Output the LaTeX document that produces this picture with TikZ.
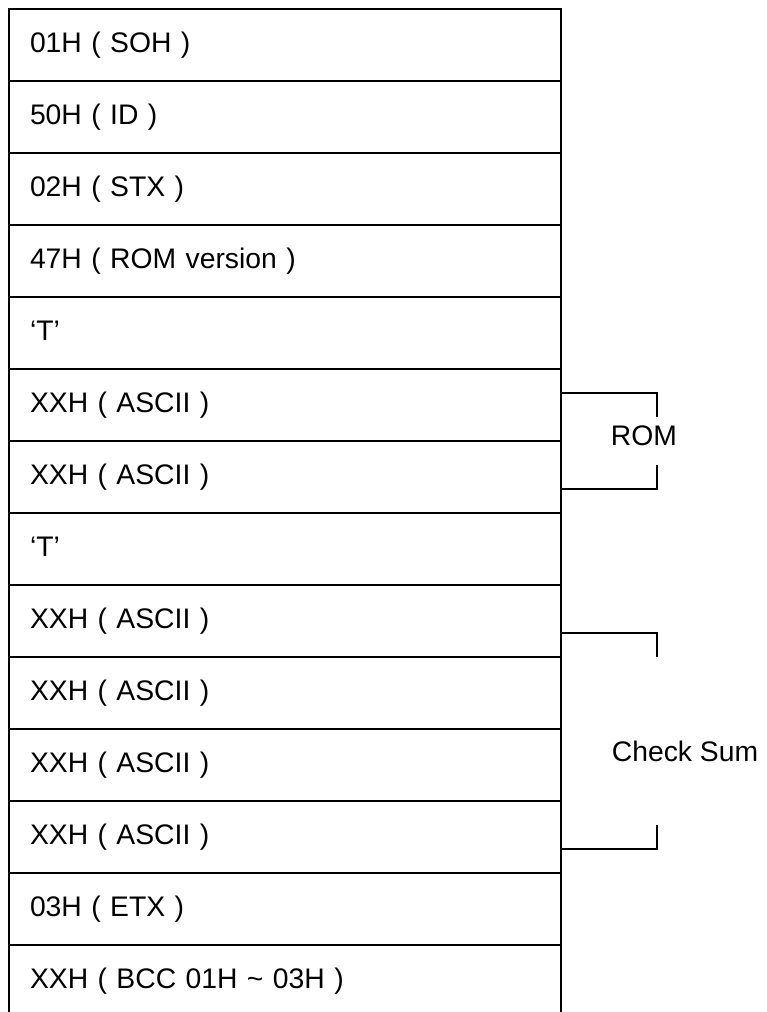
\documentclass[tikz,border=0pt]{standalone}
\usepackage{fontspec}
\setmainfont{Liberation Sans}
\begin{document}
\begin{tikzpicture}[x=1pt,y=1pt,
  rowbox/.style={draw, line width=2pt, minimum width=552pt, minimum height=72pt,
    text width=510pt, inner xsep=21pt, inner ysep=0pt, align=left,
    font=\fontsize{28.3}{34}\selectfont, text height=21pt, text depth=6pt},
  brk/.style={line width=1.3pt},
  side/.style={font=\fontsize{28.3}{34}\selectfont, inner sep=0pt}]
\useasboundingbox (0,0) rectangle (767,-1012);
\clip (0,0) rectangle (767,-1012);
\foreach \t [count=\i] in {01H ( SOH ), 50H ( ID ), 02H ( STX ), 47H ( ROM version ), ‘T’,
  XXH ( ASCII ), XXH ( ASCII ), ‘T’, XXH ( ASCII ), XXH ( ASCII ), XXH ( ASCII ), XXH ( ASCII ),
  03H ( ETX ), XXH ( BCC 01H \textasciitilde{} 03H )}
  \node[rowbox] (r\i) at (285,{-9-72*\i+36}) {\t};
\node[side] (rom) at (644,-436) {ROM};
\node[side] (cks) at (685,-751) {Check Sum};
\draw[brk] ([yshift=12pt]r6.east) -- ++(95,0) -- ++(0,-24) coordinate (romA);
\draw[brk] ([yshift=-12pt]r7.east) -- ++(95,0) -- ++(0,24) coordinate (romB);
\draw[brk] ([yshift=-12pt]r9.east) -- ++(95,0) -- ++(0,-24) coordinate (cksA);
\draw[brk] ([yshift=-12pt]r12.east) -- ++(95,0) -- ++(0,24) coordinate (cksB);
\end{tikzpicture}
\end{document}
